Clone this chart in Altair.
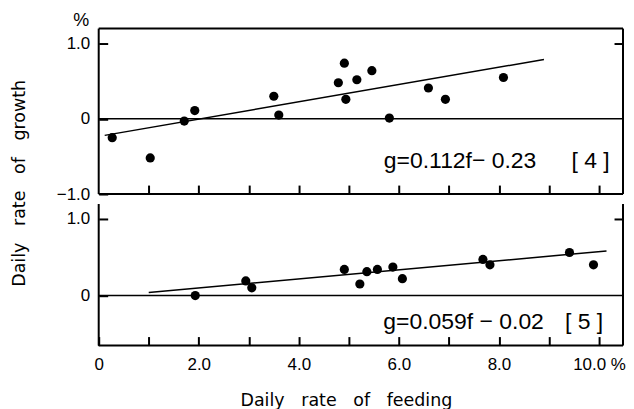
import altair as alt
import pandas as pd

# ---- data ----
top_f = [0.27, 1.03, 1.71, 1.92, 3.50, 3.60, 4.79, 4.91, 4.94, 5.16, 5.46, 5.81, 6.59, 6.93, 8.09]
top_g = [-0.25, -0.52, -0.03, 0.11, 0.30, 0.05, 0.48, 0.74, 0.26, 0.52, 0.64, 0.01, 0.41, 0.26, 0.55]
bot_f = [1.93, 2.94, 3.06, 4.91, 5.22, 5.36, 5.57, 5.88, 6.07, 7.68, 7.82, 9.41, 9.89]
bot_g = [0.00, 0.19, 0.10, 0.34, 0.15, 0.31, 0.34, 0.37, 0.22, 0.47, 0.40, 0.56, 0.40]

top_line_f = [0.12, 8.90]
top_line_g = [-0.22, 0.79]
bot_line_f = [1.00, 10.15]
bot_line_g = [0.04, 0.58]

NB = "\u00a0"
top_eq = ["g=0.112f\u2212" + NB + "0.23", "[" + NB + "4" + NB + "]"]
top_eq_f = [5.70, 9.45]
top_eq_g = [-0.56, -0.56]
bot_eq = ["g=0.059f" + NB + "\u2212" + NB + "0.02", "[" + NB + "5" + NB + "]"]
bot_eq_f = [5.69, 9.32]
bot_eq_g = [-0.35, -0.35]

x_ticks = [0, 1, 2, 3, 4, 5, 6, 7, 8, 9, 10]

# ---- layout / style ----
W = 526
H1 = 166
H2 = 142
XDOM = [0, 10.48]
Y1DOM = [-1.0, 1.2]
Y2DOM = [-0.65, 1.19]
LFONT = "Liberation Sans"
TFONT = "DejaVu Sans"
LW = 2
GAP = NB * 3
TSIZE = 17.5


def frame(h, sides):
    layers = []
    if "left" in sides:
        layers.append(alt.Chart().mark_rule(color="black", strokeWidth=LW).encode(
            x=alt.value(0), y=alt.value(0), y2=alt.value(h)))
    if "right" in sides:
        layers.append(alt.Chart().mark_rule(color="black", strokeWidth=LW).encode(
            x=alt.value(W), y=alt.value(0), y2=alt.value(h)))
    if "top" in sides:
        layers.append(alt.Chart().mark_rule(color="black", strokeWidth=LW).encode(
            y=alt.value(0), x=alt.value(0), x2=alt.value(W)))
    if "bottom" in sides:
        layers.append(alt.Chart().mark_rule(color="black", strokeWidth=LW).encode(
            y=alt.value(h), x=alt.value(0), x2=alt.value(W)))
    return layers


def panel(pf, pg, lf, lg, et, ef, eg, ydom, h, is_top):
    xs = alt.Scale(domain=XDOM, nice=False, zero=False)
    ys = alt.Scale(domain=ydom, nice=False, zero=False)

    pts = pd.DataFrame({"f": pf, "g": pg})
    line = pd.DataFrame({"f": lf, "g": lg})
    eq = pd.DataFrame({"f": ef, "g": eg, "t": et})

    if is_top:
        xaxis = alt.Axis(values=x_ticks[1:], labels=False, offset=-9, tickSize=9,
                         tickWidth=LW, tickColor="black", domain=False, grid=False, title=None)
        yaxis = alt.Axis(values=[-1, 0, 1], offset=-9, tickSize=9, tickWidth=LW,
                         tickColor="black", domain=False, grid=False,
                         labelExpr="datum.value == -1 ? '\u22121.0' : datum.value == 0 ? '0' : '1.0'",
                         labelPadding=9, labelFont=LFONT, labelFontSize=17, labelColor="black",
                         title="%", titleAngle=0, titleX=-27, titleY=-8, titleAlign="center",
                         titleBaseline="middle", titleFont=LFONT, titleFontSize=18,
                         titleFontWeight="normal", titleColor="black")
    else:
        xaxis = alt.Axis(values=x_ticks, offset=-9, tickSize=9, tickWidth=LW, tickColor="black",
                         domain=False, grid=False, labelFlush=False, labelOverlap=False,
                         labelExpr="datum.value % 2 != 0 ? '' : datum.value == 0 ? '0' : datum.value == 10 ? '10.0" + NB + "%' : format(datum.value, '.1f')",
                         labelPadding=11, labelFont=LFONT, labelFontSize=17, labelColor="black",
                         title="Daily" + GAP + "rate" + GAP + "of" + GAP + "feeding",
                         titleX=248, titleY=55,
                         titleAlign="center", titleFont=TFONT, titleFontSize=TSIZE,
                         titleFontWeight="normal", titleColor="black")
        yaxis = alt.Axis(values=[0, 1], offset=-9, tickSize=9, tickWidth=LW,
                         tickColor="black", domain=False, grid=False,
                         labelExpr="datum.value == 0 ? '0' : '1.0'",
                         labelPadding=9, labelFont=LFONT, labelFontSize=17, labelColor="black",
                         title=None)

    base_pts = alt.Chart(pts).mark_circle(size=85, color="black", opacity=1).encode(
        x=alt.X("f:Q", scale=xs, axis=xaxis),
        y=alt.Y("g:Q", scale=ys, axis=yaxis),
    )
    fit = alt.Chart(line).mark_line(color="black", strokeWidth=1.5).encode(
        x=alt.X("f:Q", scale=xs, axis=None),
        y=alt.Y("g:Q", scale=ys, axis=alt.Axis(orient="right", values=[1], labels=False,
                                              offset=-9, tickSize=9, tickWidth=LW,
                                              tickColor="black", domain=False, grid=False,
                                              title=None)),
    )
    zero = alt.Chart().mark_rule(color="black", strokeWidth=1.5).encode(
        y=alt.datum(0, scale=ys, axis=None))
    text = alt.Chart(eq).mark_text(align="left", baseline="middle", font=LFONT,
                                   fontSize=23, color="black").encode(
        x=alt.X("f:Q", scale=xs, axis=None),
        y=alt.Y("g:Q", scale=ys, axis=None),
        text="t:N",
    )
    sides = ["left", "right", "top", "bottom"] if is_top else ["left", "right", "bottom"]
    layers = [base_pts, fit, zero, text] + frame(h, sides)
    return alt.layer(*layers).resolve_axis(x="independent", y="independent").properties(
        width=W, height=h)


top = panel(top_f, top_g, top_line_f, top_line_g, top_eq, top_eq_f, top_eq_g, Y1DOM, H1, True)
bottom = panel(bot_f, bot_g, bot_line_f, bot_line_g, bot_eq, bot_eq_f, bot_eq_g, Y2DOM, H2, False)

chart = alt.vconcat(top, bottom, spacing=10, bounds="flush").properties(
    title=alt.TitleParams("Daily" + GAP + "rate" + GAP + "of" + GAP + "growth",
                          orient="left", anchor="middle",
                          font=TFONT, fontSize=TSIZE, fontWeight="normal", color="black",
                          offset=28, dx=27),
    padding={"left": 2, "top": 3, "right": 0, "bottom": 0},
).configure_view(stroke=None)

chart.save("out.html", embed_options={"renderer": "svg", "actions": False})
